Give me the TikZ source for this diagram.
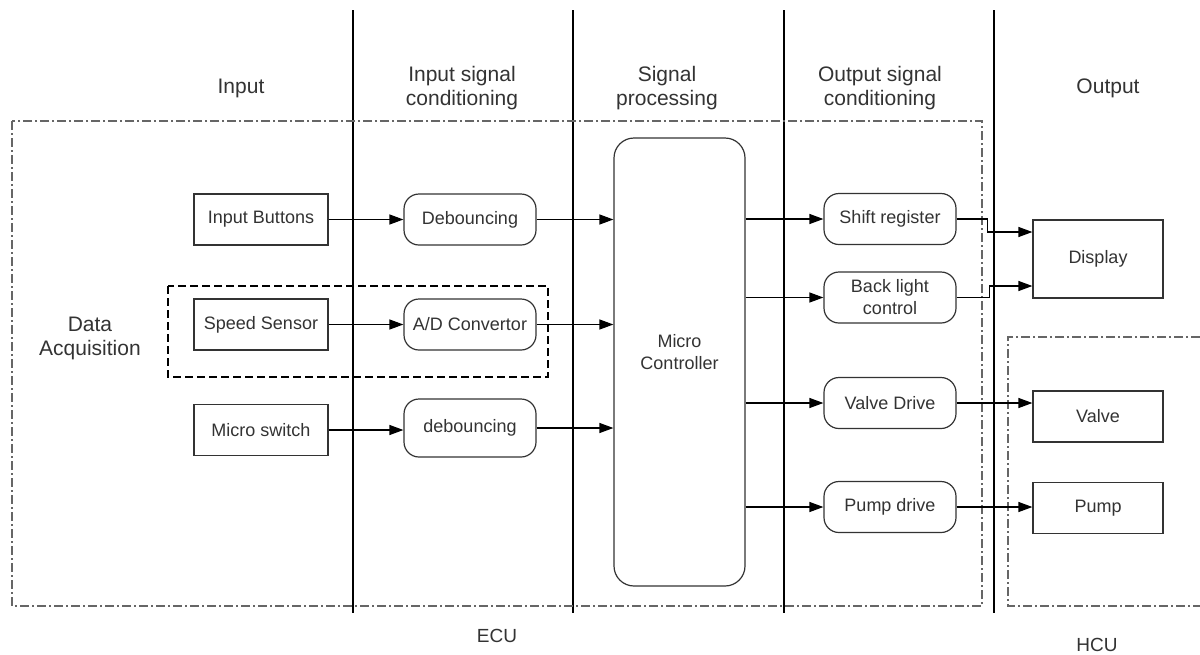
\documentclass[tikz,border=0pt]{standalone}
\usepackage{fontspec}
\setmainfont{Liberation Sans}
\usetikzlibrary{arrows.meta,calc}

\begin{document}
\begin{tikzpicture}[x=1pt,y=-1pt,
  every node/.style={text=black!80},
  blk/.style={draw=black!80,line width=1.2pt,minimum width=134pt,minimum height=51pt,
    font=\fontsize{18}{22}\selectfont,align=center,inner sep=0pt},
  rblk/.style={blk,rounded corners=15pt,minimum width=132pt},
  head/.style={font=\fontsize{21}{24}\selectfont,align=center},
  sig/.style={line width=1.2pt,-{Triangle[length=14pt,width=10pt]}},
  dashdot/.style={draw=black!60,line width=1.2pt,dash pattern=on 9pt off 3pt on 2pt off 3pt}]
\fill[white] (0,0) rectangle (1200,654);
\useasboundingbox (0,0) rectangle (1200,654);
% stage separators
\foreach \xx in {353,573,784,994}
  \draw[line width=1.2pt] (\xx,10) -- (\xx,613);
% stage headings
\node[head] (hin) at (241,88) {Input};
\node[head] (hisc) at (462,88) {Input signal\\conditioning};
\node[head] (hsp) at (667,88) {Signal\\processing};
\node[head] (hosc) at (880,88) {Output signal\\conditioning};
\node[head] (hout) at (1108,88) {Output};
% frames
\draw[dashdot] (12,121) rectangle (982,606);
\draw[dashdot] (1200,337) -| (1008,606) -- (1200,606);
\draw[line width=1.2pt,dash pattern=on 8pt off 4pt] (168,286) rectangle (548,377);
\node[head] (daq) at (90,338) {Data\\Acquisition};
\node[font=\fontsize{19}{22}\selectfont] (ecu) at (497,636) {ECU};
\node[font=\fontsize{19}{22}\selectfont] (hcu) at (1097,645) {HCU};
% input side
\node[blk] (btn) at (261,219.5) {Input Buttons};
\node[rblk] (deb) at (470,219.5) {Debouncing};
\node[blk] (spd) at (261,324.5) {Speed Sensor};
\node[rblk] (adc) at (470,324.5) {A/D Convertor};
\node[blk] (msw) at (261,430) {Micro switch};
\node[rblk,minimum height=58pt] (deb2) at (470,428) {debouncing};
\node[rblk,minimum width=131pt,minimum height=448pt,rounded corners=20pt,
  label={[font=\fontsize{18}{22}\selectfont,align=center,yshift=10pt]center:Micro\\Controller}] (mc) at (679.5,362) {};
% output side
\node[rblk] (shr) at (890,219) {Shift register};
\node[rblk] (blc) at (890,297.5) {Back light\\control};
\node[rblk] (vdr) at (890,403) {Valve Drive};
\node[rblk] (pdr) at (890,507) {Pump drive};
\node[blk,minimum width=130pt,minimum height=78pt] (dsp) at (1098,259) {Display};
\node[blk,minimum width=130pt] (vlv) at (1098,416.5) {Valve};
\node[blk,minimum width=130pt] (pmp) at (1098,508) {Pump};
% signals
\draw[sig] (btn) -- (deb);
\draw[sig] (deb) -- (deb -| mc.west);
\draw[sig] (spd) -- (adc);
\draw[sig] (adc) -- (adc -| mc.west);
\draw[sig] (msw) -- (msw -| deb2.west);
\draw[sig] (deb2) -- (deb2 -| mc.west);
\draw[sig] (mc.east |- shr) -- (shr);
\draw[sig] (mc.east |- blc) -- (blc);
\draw[sig] (mc.east |- vdr) -- (vdr);
\draw[sig] (mc.east |- pdr) -- (pdr);
\coordinate (dspa) at ($(dsp.west)+(0,-27)$);
\coordinate (dspb) at ($(dsp.west)+(0,27)$);
\draw[sig] (shr.east) -- ++(31,0) |- (dspa);
\draw[sig] (blc.east) -- ++(33,0) |- (dspb);
\draw[sig] (vdr.east) -- (vdr.east -| vlv.west);
\draw[sig] (pdr.east) -- (pdr.east -| pmp.west);
\end{tikzpicture}
\end{document}
